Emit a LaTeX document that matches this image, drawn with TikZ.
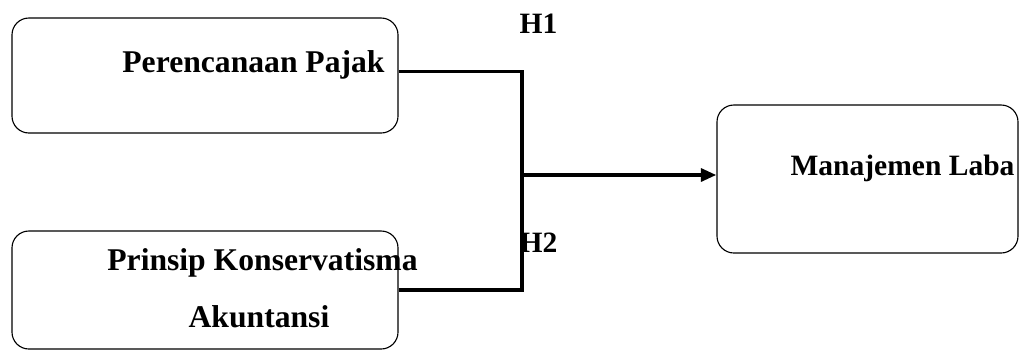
\documentclass[tikz,border=0pt]{standalone}
\usepackage{fontspec}
\setmainfont{Liberation Serif}
\usetikzlibrary{arrows.meta,calc}

\tikzset{
    varbox/.style={draw, line width=0.8pt, rounded corners=12pt, inner sep=0pt},
    varlabel/.style={font=\bfseries\fontsize{22.5}{27}\selectfont, inner sep=0pt, anchor=base},
    hyplabel/.style={font=\bfseries\fontsize{21}{25}\selectfont, inner sep=0pt, anchor=base},
    link/.style={line width=2.8pt}
}

\begin{document}
\begin{tikzpicture}[x=0.025cm, y=-0.025cm]
    \useasboundingbox (0,0) rectangle (1020,350);
    % variables
    \node[varbox, minimum width=386*0.025cm, minimum height=115*0.025cm] (pajak) at (205,75.5) {};
    \node[varbox, minimum width=386*0.025cm, minimum height=118*0.025cm] (konserv) at (205,290) {};
    \node[varbox, minimum width=301*0.025cm, minimum height=148*0.025cm] (laba) at (867.5,179) {};
    \node[varlabel] (tpajak) at (253.5,72) {Perencanaan Pajak};
    \node[varlabel] (tkonserv) at (262.5,270) {Prinsip Konservatisma};
    \node[varlabel] (takun) at (259,327) {Akuntansi};
    \node[varlabel, font=\bfseries\fontsize{21}{25}\selectfont] (tlaba) at (902.5,175) {Manajemen Laba};
    % hypotheses
    \node[hyplabel] (h1) at (538.5,33) {H1};
    \node[hyplabel] (h2) at (538.5,252) {H2};
    % connectors
    \coordinate (junc) at (522,175);
    \draw[link] ($(pajak.east)+(0,-4)$) -| (junc);
    \draw[link] (konserv.east) -| (junc);
    \draw[link, -{Triangle[length=11pt, width=9pt]}] (junc) -- (junc -| laba.west);
\end{tikzpicture}
\end{document}
